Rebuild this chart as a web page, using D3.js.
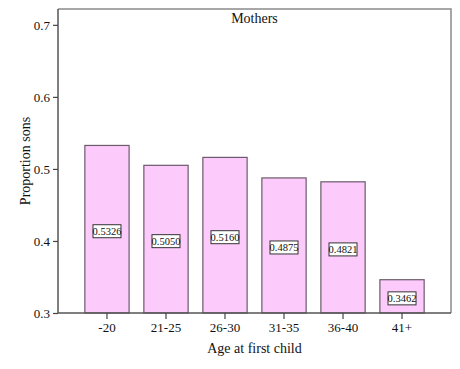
<!DOCTYPE html>
<html>
<head>
<meta charset="utf-8">
<script src="https://cdn.jsdelivr.net/npm/d3@7"></script>
<style>
  body { margin: 0; background: #fff; }
  text { font-family: "Liberation Serif", "Times New Roman", serif; fill: #111; }
</style>
</head>
<body>
<div id="chart"></div>
<script>
(function () {
    var width = 460
    var height = 369

    // data
    var categories = ["-20", "21-25", "26-30", "31-35", "36-40", "41+"]
    var proportions = [0.5326, 0.5050, 0.5160, 0.4875, 0.4821, 0.3462]
    var yTicks = [0.3, 0.4, 0.5, 0.6, 0.7]

    // plot frame
    var left = 58, right = 451, top = 9, bottom = 313

    var svg = d3.select("#chart")
        .append("svg")
        .attr("width", width)
        .attr("height", height)

    var x = d3.scaleBand()
        .domain(categories)
        .range([left, right])
        .paddingInner(0.25)
        .paddingOuter(0.455)

    var y = d3.scaleLinear()
        .domain([0.3, 0.722])
        .range([bottom, top])

    // frame top and right
    svg.append("path")
        .attr("d", "M" + left + "," + top + "H" + right + "V" + bottom)
        .attr("fill", "none")
        .attr("stroke", "#8a8a8a")
        .attr("stroke-width", 1.5)

    // bars
    svg.selectAll(".bar")
        .data(proportions)
        .enter()
        .append("rect")
        .attr("class", "bar")
        .attr("x", function (d, i) { return x(categories[i]) })
        .attr("y", function (d) { return y(d) })
        .attr("width", x.bandwidth())
        .attr("height", function (d) { return bottom - y(d) })
        .attr("fill", "#fdcbfb")
        .attr("stroke", "#6b5a6b")
        .attr("stroke-width", 1.2)

    // value labels in boxes, at the middle of each bar
    var labels = svg.selectAll(".lab")
        .data(proportions)
        .enter()
        .append("g")
        .attr("transform", function (d, i) {
            var cx = x(categories[i]) + x.bandwidth() / 2
            var cy = (y(d) + bottom) / 2 + 2
            return "translate(" + cx + "," + cy + ")"
        })

    labels.append("rect")
        .attr("x", -14)
        .attr("y", -6.5)
        .attr("width", 28)
        .attr("height", 13)
        .attr("fill", "#fff")
        .attr("stroke", "#333")
        .attr("stroke-width", 1)

    labels.append("text")
        .attr("text-anchor", "middle")
        .attr("dy", "0.35em")
        .style("font-size", "10.5px")
        .text(function (d) { return d.toFixed(4) })

    // axes
    var yAxis = svg.append("g")
        .attr("transform", "translate(" + left + ",0)")
        .call(d3.axisLeft(y).tickValues(yTicks).tickSize(5).tickPadding(3).tickFormat(d3.format(".1f")))
    yAxis.selectAll("text").style("font-size", "13px")

    var xAxis = svg.append("g")
        .attr("transform", "translate(0," + bottom + ")")
        .call(d3.axisBottom(x).tickSize(6).tickPadding(4))
    xAxis.selectAll("text").style("font-size", "13px")

    svg.selectAll(".domain").attr("stroke", "#555").attr("stroke-width", 1.5)
    yAxis.select(".domain").attr("d", "M0," + top + "V" + bottom)
    xAxis.select(".domain").attr("d", "M" + left + ",0H" + right)
    svg.selectAll(".tick line").attr("stroke", "#444").attr("stroke-width", 1.2)

    // titles
    svg.append("text")
        .attr("x", (left + right) / 2)
        .attr("y", 23)
        .attr("text-anchor", "middle")
        .style("font-size", "14px")
        .text("Mothers")

    svg.append("text")
        .attr("x", (left + right) / 2)
        .attr("y", 353)
        .attr("text-anchor", "middle")
        .style("font-size", "14px")
        .text("Age at first child")

    svg.append("text")
        .attr("transform", "translate(30," + ((top + bottom) / 2) + ") rotate(-90)")
        .attr("text-anchor", "middle")
        .style("font-size", "14px")
        .text("Proportion sons")
})();
</script>
</body>
</html>
